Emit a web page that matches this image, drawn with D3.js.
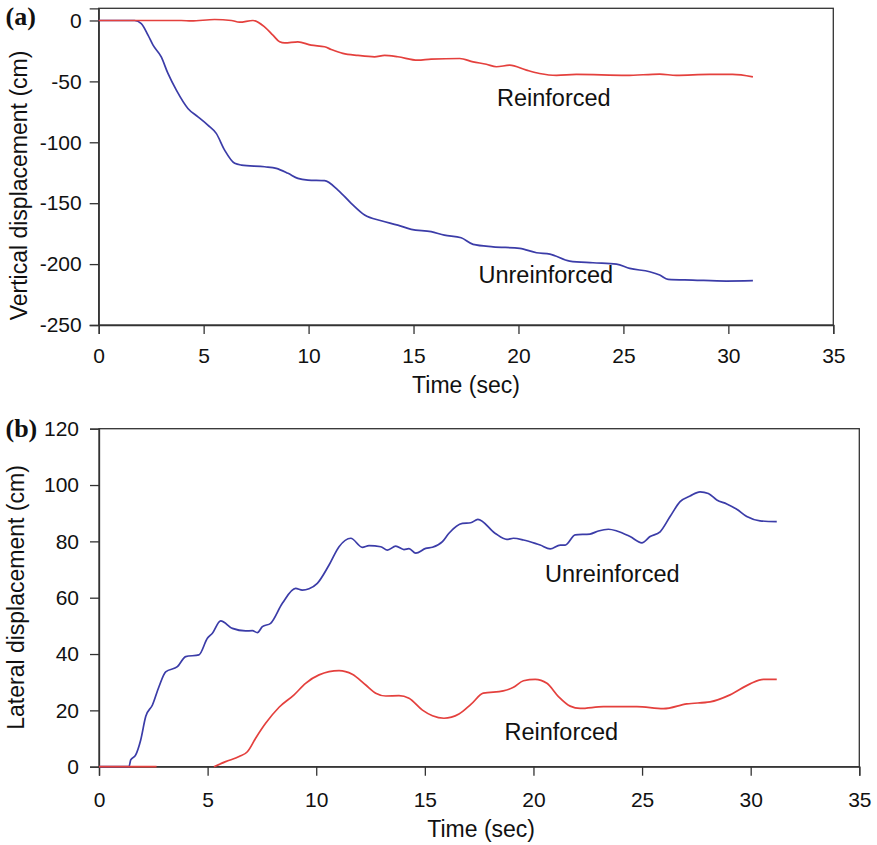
<!DOCTYPE html>
<html>
<head>
<meta charset="utf-8">
<script src="https://cdn.jsdelivr.net/npm/d3@7"></script>
<style>
  html, body { margin: 0; padding: 0; background: #fff; }
  svg { display: block; }
  text { font-family: "Liberation Sans", Arial, sans-serif; fill: #111; }
</style>
</head>
<body>
<svg id="fig" width="877" height="845"></svg>
<script>
// Time-history data: [time (s), displacement (cm)]
const vertUnreinforced = [
  [0,0],[1.71,0],[2.03,-2.5],[2.35,-12],[2.59,-20.3],[2.98,-29.9],[3.3,-43.5],[3.7,-57.2],
  [4.25,-72.2],[4.73,-79.1],[5.2,-85.9],[5.6,-92.7],[6.0,-106.4],[6.48,-117.3],[6.8,-118.7],
  [7.91,-120.1],[8.46,-121.4],[9.02,-125.5],[9.49,-129.6],[9.97,-131],[10.76,-131.5],
  [11.4,-139.2],[12.03,-150.1],[12.67,-159.7],[13.46,-164.4],[14.25,-168],[14.89,-171.5],
  [15.84,-173.4],[16.47,-176.2],[17.27,-178.4],[17.84,-183.8],[18.79,-185.8],[20.06,-187.1],
  [20.86,-190.7],[21.5,-191.8],[22.44,-197.5],[23.55,-198.9],[24.67,-200],[25.3,-203.5],
  [26.25,-206.3],[26.73,-209],[27.13,-212.5],[28.3,-213.1],[29.9,-213.9],[31.17,-213.6]
];
const vertReinforced = [
  [0,0],[3.93,0],[4.41,-0.4],[5.52,0.8],[6.32,0],[6.71,-1.4],[7.35,0],[7.9,-5.2],[8.3,-12],
  [8.62,-17.5],[8.86,-18.4],[9.49,-17.5],[10.12,-20.3],[10.76,-21.6],[11.08,-23.8],[11.63,-27],
  [12.35,-28.7],[13.14,-29.8],[13.62,-28.7],[14.25,-29.8],[15.2,-32.6],[15.84,-31.7],[17.2,-31.2],
  [17.84,-34],[18.47,-35.9],[18.95,-38],[19.58,-36.7],[20.38,-40.8],[21,-43.5],[21.81,-45.1],
  [22.76,-44.3],[25.14,-45.1],[26.73,-44],[27.52,-45.1],[29.1,-44.3],[30.2,-44.3],[31.17,-46.3]
];
const latUnreinforced = [
  [0,0],[1.38,0],[1.46,2.4],[1.69,4.2],[1.92,9.5],[2.15,17.8],[2.46,21.9],[2.76,28.4],[3.07,33.7],
  [3.61,35.5],[3.99,39.1],[4.6,39.7],[4.99,45.6],[5.22,47.4],[5.6,51.8],[6.14,49.1],[6.75,48.2],
  [7.06,48.3],[7.29,47.6],[7.52,49.7],[7.9,50.9],[8.44,58],[9.05,63.3],[9.36,62.7],[9.67,63.2],
  [10.05,65.1],[10.59,71.6],[11.05,78.1],[11.59,81.1],[12.12,77.9],[12.43,78.5],[12.97,78.1],
  [13.28,76.9],[13.66,78.3],[14.04,77.1],[14.27,77.4],[14.58,75.8],[15.04,77.5],[15.35,77.9],
  [15.81,79.9],[16.11,82.9],[16.73,86.4],[17.11,86.6],[17.44,87.8],[18.23,82.9],[18.77,80.7],
  [19.08,81.1],[19.54,80.5],[20.08,79.3],[20.31,78.7],[20.77,77.3],[21.23,78.7],[21.46,78.7],
  [21.92,82.3],[22.6,82.6],[22.99,83.7],[23.45,84.3],[23.84,83.7],[24.45,81.7],[24.99,79.5],
  [25.37,81.7],[25.83,83.4],[26.29,88.8],[26.75,94.1],[27.21,96.1],[27.67,97.6],[28.05,97],
  [28.44,94.7],[28.9,93.3],[29.36,91.4],[29.82,88.8],[30.43,87.3],[31.2,87]
];
// null marks the stretch where the trace is hidden under the time axis
const latReinforced = [
  [0,0],[2.65,0],[3.9,null],[5.29,0],[5.83,1.8],[6.45,3.6],[6.83,5.3],[7.21,10.1],[7.67,15.4],
  [8.29,21.1],[8.98,25.5],[9.51,29.6],[10.13,32.6],[11.05,34.1],[11.66,32.8],[12.28,29],
  [12.74,26.1],[13.2,25.1],[13.81,25.2],[14.27,24.3],[14.89,20.1],[15.35,18.1],[15.88,17.2],
  [16.57,18.7],[17.13,22.2],[17.69,26.1],[18.61,26.9],[19.08,28.2],[19.54,30.5],[20.08,31],
  [20.62,29.6],[21.15,24.9],[21.69,21.5],[22.15,20.7],[23.22,21.3],[24.76,21.3],[25.98,20.6],
  [27.06,22.3],[28.13,23],[29.05,25.5],[29.97,29.4],[30.59,31],[31.2,31]
];

const timeTicks = [0, 5, 10, 15, 20, 25, 30, 35];
const vertTicks = [0, -50, -100, -150, -200, -250];
const latTicks = [0, 20, 40, 60, 80, 100, 120];

const RED = "#e4403d";
const BLUE = "#3b3ca8";
const FRAME = "#333";

const svg = d3.select("#fig");

function panel(opt) {
  const g = svg.append("g");
  const x = d3.scaleLinear().domain([0, 35]).range([opt.left, opt.right]);
  const y = d3.scaleLinear().domain(opt.yDomain).range([opt.bottom, opt.top]);

  // frame
  g.append("rect")
    .attr("x", opt.left).attr("y", opt.top)
    .attr("width", opt.right - opt.left).attr("height", opt.bottom - opt.top)
    .attr("fill", "none").attr("stroke", FRAME).attr("stroke-width", 1.3);

  const xAxis = g.append("g")
    .attr("transform", `translate(0,${opt.bottom})`)
    .call(d3.axisBottom(x).tickValues(timeTicks).tickSize(9).tickFormat(d => String(d)));
  xAxis.select(".domain").attr("stroke", FRAME).attr("stroke-width", 1.3);
  xAxis.selectAll(".tick line").attr("stroke", FRAME).attr("stroke-width", 1.3);
  xAxis.selectAll(".tick text")
    .attr("y", opt.xLabelBase).attr("dy", 0)
    .style("font-size", "21px").attr("fill", "#111");

  const yAxis = g.append("g")
    .attr("transform", `translate(${opt.left},0)`)
    .call(d3.axisLeft(y).tickValues(opt.yTicks).tickSize(9).tickPadding(opt.yPad).tickFormat(d => String(d)));
  yAxis.select(".domain").attr("stroke", FRAME).attr("stroke-width", 1.3);
  yAxis.selectAll(".tick line").attr("stroke", FRAME).attr("stroke-width", 1.3);
  yAxis.selectAll(".tick text").style("font-size", "21px").attr("fill", "#111");

  const line = d3.line()
    .defined(d => d[1] !== null)
    .x(d => x(d[0])).y(d => y(d[1]))
    .curve(d3.curveMonotoneX);

  opt.series.forEach(s => {
    g.append("path").datum(s.data)
      .attr("d", line)
      .attr("fill", "none")
      .attr("stroke", s.color)
      .attr("stroke-width", 1.7)
      .attr("stroke-linejoin", "round");
  });

  // axis titles
  g.append("text")
    .attr("x", (opt.left + opt.right) / 2 + opt.xTitleShift)
    .attr("y", opt.bottom + opt.xTitleBase)
    .attr("text-anchor", "middle")
    .style("font-size", "23px")
    .text("Time (sec)");

  g.append("text")
    .attr("transform", `translate(${opt.yTitleX},${opt.yTitleMid}) rotate(-90)`)
    .attr("text-anchor", "middle")
    .style("font-size", "23px")
    .text(opt.yTitle);

  // panel tag
  g.append("text")
    .attr("x", 5.5).attr("y", opt.tagBase)
    .style("font-family", "'Liberation Serif', 'Times New Roman', serif")
    .style("font-weight", "bold")
    .style("font-size", "26px")
    .text(opt.tag);

  // curve labels
  opt.labels.forEach(l => {
    g.append("text")
      .attr("x", l.x).attr("y", l.y)
      .style("font-size", "23.5px")
      .text(l.text);
  });
}

panel({
  left: 98.7, right: 833.3, top: 8.3, bottom: 325,
  yDomain: [-250, 10], yTicks: vertTicks, yPad: 8,
  xLabelBase: 37.7, xTitleBase: 68.3, xTitleShift: 0,
  yTitle: "Vertical displacement (cm)", yTitleX: 26.5, yTitleMid: 185.5,
  tag: "(a)", tagBase: 25,
  series: [
    { data: vertUnreinforced, color: BLUE },
    { data: vertReinforced, color: RED }
  ],
  labels: [
    { text: "Reinforced", x: 497, y: 106 },
    { text: "Unreinforced", x: 478.5, y: 283.3 }
  ]
});

panel({
  left: 99, right: 859.3, top: 428.7, bottom: 766.7,
  yDomain: [0, 120], yTicks: latTicks, yPad: 11,
  xLabelBase: 40, xTitleBase: 69.8, xTitleShift: 2,
  yTitle: "Lateral displacement (cm)", yTitleX: 23.5, yTitleMid: 597.5,
  tag: "(b)", tagBase: 436.7,
  series: [
    { data: latUnreinforced, color: BLUE },
    { data: latReinforced, color: RED }
  ],
  labels: [
    { text: "Unreinforced", x: 545, y: 581.7 },
    { text: "Reinforced", x: 504.5, y: 740 }
  ]
});
</script>
</body>
</html>
